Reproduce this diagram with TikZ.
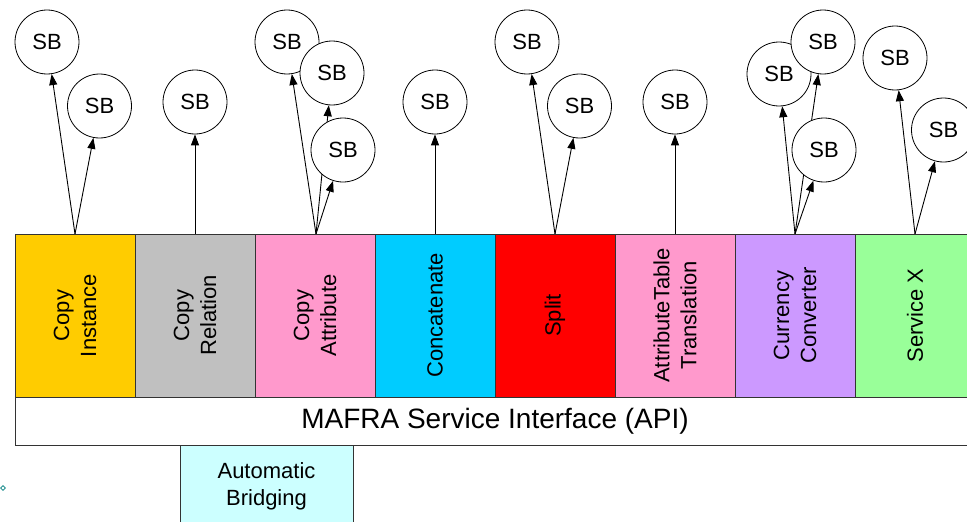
\documentclass[tikz,border=0pt]{standalone}
\usepackage{fontspec}
\setmainfont{Liberation Sans}
\usetikzlibrary{arrows.meta,shapes.geometric}
\pgfdeclarelayer{background}
\pgfsetlayers{background,main}
\definecolor{cGold}{HTML}{FFCC00}
\definecolor{cGray}{HTML}{C0C0C0}
\definecolor{cPink}{HTML}{FF99CC}
\definecolor{cCyan}{HTML}{00CCFF}
\definecolor{cRed}{HTML}{FF0000}
\definecolor{cLilac}{HTML}{CC99FF}
\definecolor{cGreen}{HTML}{99FF99}
\definecolor{cPale}{HTML}{CCFFFF}
\definecolor{cEdge}{HTML}{333333}
\begin{document}
\begin{tikzpicture}[x=1pt,y=-1pt,
  col/.style={draw=cEdge, line width=0.9pt, rotate=90, minimum width=163pt, minimum height=120pt,
    inner sep=0pt, align=center, font=\fontsize{22}{27}\selectfont},
  sb/.style={circle, draw=black, fill=white, line width=0.8pt, minimum size=64pt, inner sep=0pt,
    font=\fontsize{22}{25}\selectfont},
  arr/.style={line width=0.9pt, -{Triangle[length=11pt,width=8pt]}},
  plain/.style={draw=cEdge, line width=0.9pt, inner sep=0pt, align=center}]
\useasboundingbox (0,0) rectangle (967,522);

% service columns
\node[col, fill=cGold]  (c1) at (75,315.5)  {Copy\\Instance};
\node[col, fill=cGray]  (c2) at (195,315.5) {Copy\\Relation};
\node[col, fill=cPink]  (c3) at (315,315.5) {Copy\\Attribute};
\node[col, fill=cCyan]  (c4) at (435,315.5) {Concatenate};
\node[col, fill=cRed]   (c5) at (555,315.5) {Split};
\node[col, fill=cPink]  (c6) at (675,315.5) {AttributeTable\\Translation};
\node[col, fill=cLilac] (c7) at (795,315.5) {Currency\\Converter};
\node[col, fill=cGreen] (c8) at (915,315.5) {Service X};

% API bar
\node[plain, fill=white, minimum width=960pt, minimum height=48pt,
  font=\fontsize{28}{32}\selectfont] (api) at (495,421) {MAFRA Service Interface (API)};

% Automatic bridging
\node[plain, fill=cPale, minimum width=173pt, minimum height=82pt,
  font=\fontsize{22}{27}\selectfont] (ab) at (266.5,486) {Automatic\\Bridging};

% small marker
\node[diamond, draw=teal, fill=white, line width=0.6pt, minimum size=5pt, inner sep=0pt] (mk) at (3,488) {};

% arrow sources
\coordinate (s1) at (75,234);
\coordinate (s2) at (195,234);
\coordinate (s3) at (316,234);
\coordinate (s4) at (435,234);
\coordinate (s5) at (555,234);
\coordinate (s6) at (675,234);
\coordinate (s7) at (795,234);
\coordinate (s8) at (915,234);

% SB circles
\node[sb] (b1a) at (47,42) {SB};
\node[sb] (b1b) at (99.5,106) {SB};
\node[sb] (b2)  at (195,102) {SB};
\node[sb] (b3a) at (287,42) {SB};
\node[sb] (b3b) at (332,73) {SB};
\node[sb] (b3c) at (343,150) {SB};
\node[sb] (b4)  at (435,102) {SB};
\node[sb] (b5a) at (527,42) {SB};
\node[sb] (b5b) at (579.5,106) {SB};
\node[sb] (b6)  at (675,102) {SB};
\node[sb] (b7a) at (779,74) {SB};
\node[sb] (b7b) at (823,42) {SB};
\node[sb] (b7c) at (824,150) {SB};
\node[sb] (b8a) at (895,58) {SB};
\node[sb] (b8b) at (943.5,130) {SB};

\begin{pgfonlayer}{background}
\draw[arr] (s1) -- (b1a);
\draw[arr] (s1) -- (b1b);
\draw[arr] (s2) -- (b2);
\draw[arr] (s3) -- (b3a);
\draw[arr] (s3) -- (b3b);
\draw[arr] (s3) -- (b3c);
\draw[arr] (s4) -- (b4);
\draw[arr] (s5) -- (b5a);
\draw[arr] (s5) -- (b5b);
\draw[arr] (s6) -- (b6);
\draw[arr] (s7) -- (b7a);
\draw[arr] (s7) -- (b7b);
\draw[arr] (s7) -- (b7c);
\draw[arr] (s8) -- (b8a);
\draw[arr] (s8) -- (b8b);
\end{pgfonlayer}
\end{tikzpicture}
\end{document}
